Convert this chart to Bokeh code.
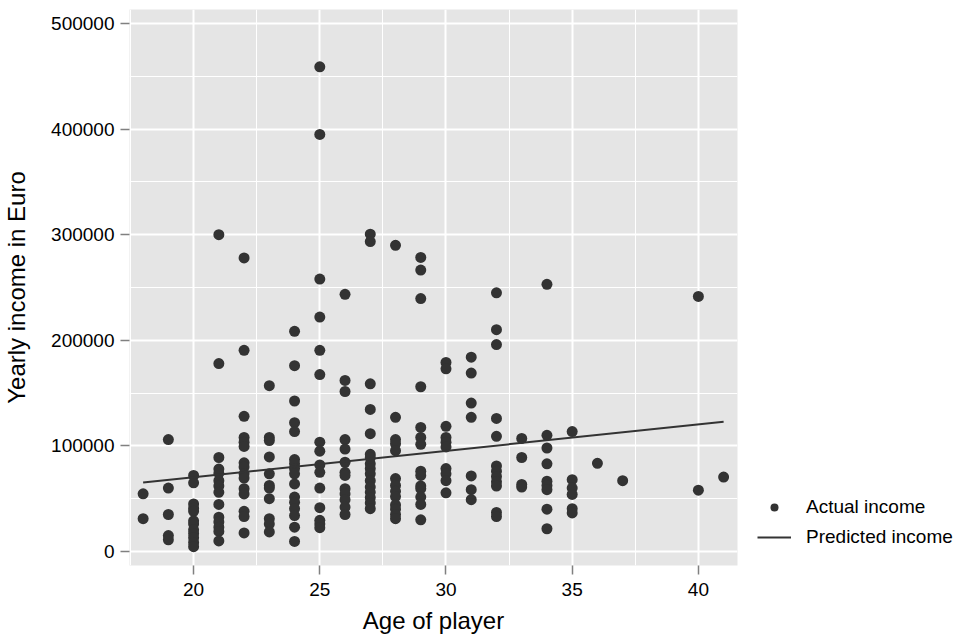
from bokeh.plotting import figure
from bokeh.models import (Range1d, FixedTicker, NumeralTickFormatter, Legend, LegendItem)
from bokeh.embed import file_html
from bokeh.resources import INLINE

# ---- data ----
age = (
    [18] * 2 + [19] * 5 + [20] * 12 + [21] * 14 + [22] * 15 + [23] * 11 + [24] * 16 +
    [25] * 15 + [26] * 13 + [27] * 16 + [28] * 13 + [29] * 14 + [30] * 10 + [31] * 7 +
    [32] * 12 + [33] * 4 + [34] * 9 + [35] * 6 + [36] + [37] + [40] * 2 + [41]
)
income = [
    54600, 31000,
    106000, 60000, 35000, 15000, 11000,
    72000, 65000, 45000, 41000, 38000, 29000, 26000, 20500, 17000, 13000, 8500, 4500,
    300000, 178000, 89000, 78000, 74000, 67000, 62000, 56000, 44500, 32500, 28000, 23000, 19000, 10000,
    278000, 190500, 128000, 108000, 103500, 99500, 84000, 80000, 73500, 69500, 59500, 54500, 38000, 33000, 17500,
    157000, 108000, 105000, 89500, 73500, 62500, 60000, 50000, 31000, 26000, 18500,
    208500, 176000, 142500, 122000, 113500, 87000, 83000, 78500, 73500, 64000, 51500, 46500, 40500, 34000, 23000, 9500,
    459000, 395000, 258000, 222000, 190500, 167500, 103500, 95000, 82000, 75000, 60000, 41500, 29500, 26000, 22500,
    243500, 162000, 151500, 106000, 97000, 84500, 75000, 72000, 59500, 54500, 49000, 42000, 35000,
    300500, 293500, 158800, 134500, 111500, 92000, 89000, 83000, 78500, 73500, 67000, 61000, 56000, 51000, 46000, 40500,
    290000, 127000, 106000, 102000, 95500, 69000, 62500, 57000, 52000, 44000, 40000, 35000, 31000,
    278500, 266500, 239500, 156000, 117500, 108000, 101500, 76000, 72000, 62000, 59500, 51500, 44500, 30000,
    179000, 173000, 118500, 108000, 103500, 99000, 78500, 73500, 67000, 55500,
    184000, 169000, 140500, 127000, 71500, 58500, 49000,
    245000, 210000, 196000, 126000, 109000, 81000, 76000, 71000, 66000, 62000, 37000, 33000,
    107000, 89000, 63500, 61000,
    253000, 110000, 98000, 83000, 66500, 62500, 58500, 40000, 21500,
    113500, 68000, 60000, 54000, 40500, 36500,
    83500,
    67000,
    241500, 58000,
    70500,
]
pred_age = [18, 41]
pred_income = [65300, 122800]

x_ticks = [20, 25, 30, 35, 40]
x_minor = [17.5, 22.5, 27.5, 32.5, 37.5, 42.5]
y_ticks = [0, 100000, 200000, 300000, 400000, 500000]
y_minor = [-50000, 50000, 150000, 250000, 350000, 450000, 550000]

FONT = "Liberation Sans"
DARK = "#333333"
PANEL = "#E5E5E5"

p = figure(frame_width=608, frame_height=556, output_backend="svg", toolbar_location=None,
           x_range=Range1d(17.46, 41.55), y_range=Range1d(-13300, 513300),
           min_border_left=129, min_border_right=10, min_border_top=9, min_border_bottom=69,
           background_fill_color=PANEL, border_fill_color="white", outline_line_color=None)

pts = p.scatter(age, income, size=11, fill_color=DARK, line_color=None, marker="circle")
ln = p.line(pred_age, pred_income, line_color=DARK, line_width=2)

p.xaxis.ticker = FixedTicker(ticks=x_ticks, minor_ticks=x_minor)
p.yaxis.ticker = FixedTicker(ticks=y_ticks, minor_ticks=y_minor)
p.yaxis.formatter = NumeralTickFormatter(format="0")

for g in (p.xgrid, p.ygrid):
    g.grid_line_color = "white"
    g.grid_line_width = 2
    g.minor_grid_line_color = "white"
    g.minor_grid_line_width = 1

for ax in (p.xaxis, p.yaxis):
    ax.axis_line_color = None
    ax.major_tick_line_color = "#808080"
    ax.major_tick_line_width = 1.5
    ax.major_tick_in = 0
    ax.major_tick_out = 9
    ax.minor_tick_line_color = None
    ax.major_label_text_font = FONT
    ax.major_label_text_font_size = "19px"
    ax.major_label_text_color = "black"
    ax.axis_label_text_font = FONT
    ax.axis_label_text_font_size = "24px"
    ax.axis_label_text_font_style = "normal"
    ax.axis_label_text_color = "black"

p.xaxis.axis_label = "Age of player"
p.yaxis.axis_label = "Yearly income in Euro"
p.xaxis.major_label_standoff = 8
p.yaxis.major_label_standoff = 6
p.xaxis.axis_label_standoff = 8
p.yaxis.axis_label_standoff = 18

legend = Legend(items=[LegendItem(label="Actual income", renderers=[pts]),
                       LegendItem(label="Predicted income", renderers=[ln])],
                location=(20, 17), orientation="vertical",
                padding=0, margin=0, spacing=8,
                glyph_width=34, glyph_height=20, label_height=20, label_standoff=15,
                label_text_font=FONT, label_text_font_size="19px", label_text_color="black",
                border_line_color=None, background_fill_color=None)
p.add_layout(legend, "right")

open("out.html", "w").write(file_html(p, INLINE))
